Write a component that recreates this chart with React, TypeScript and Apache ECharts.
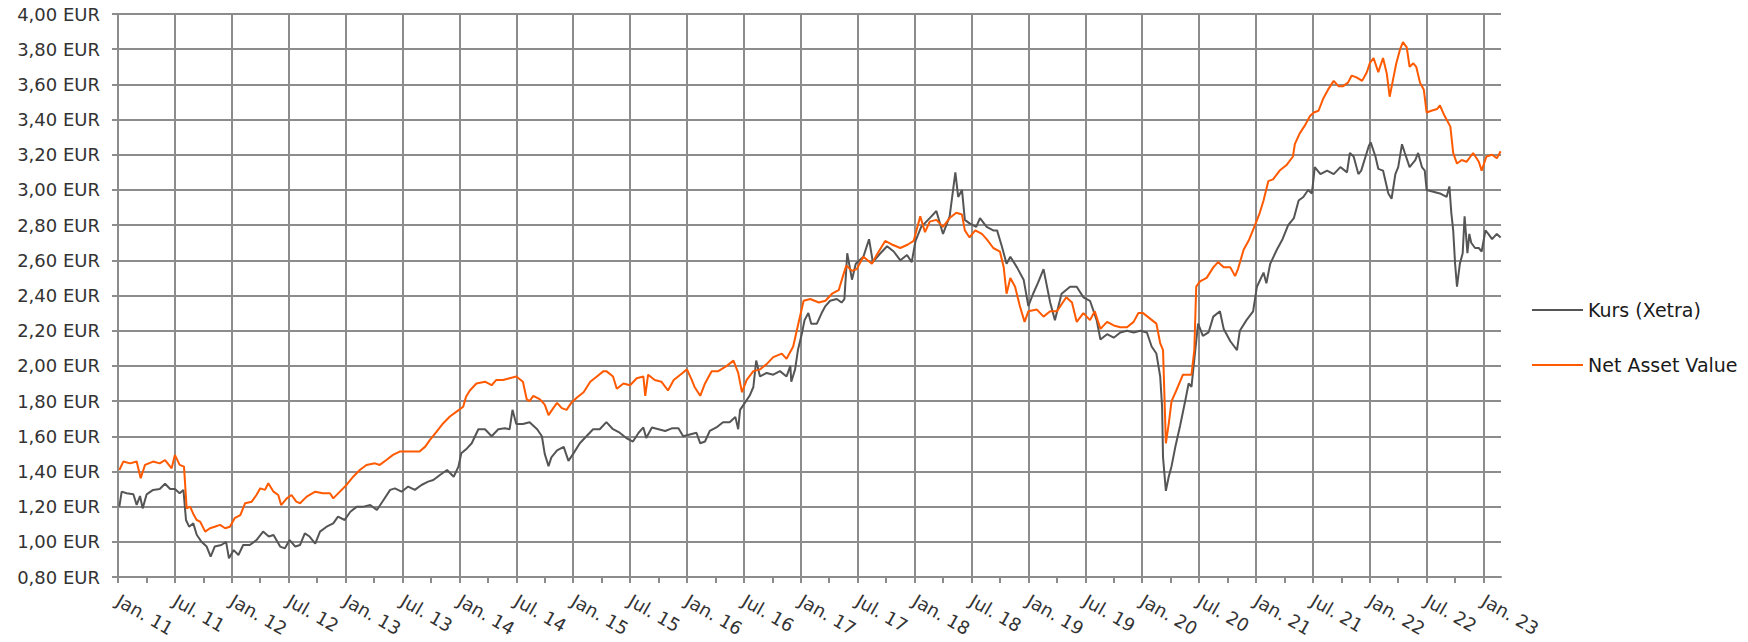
import React, { useEffect, useRef } from "react";
import * as echarts from "echarts";

// x values: months elapsed since 1 Jan 2011 (0 = Jan. 11, 144 = Jan. 23)
const X_MAX = 145.84;
const halfYearTicks = ["Jan.", "Jul."];

const kursMonths = [
  0.14, 0.39, 0.91, 1.62, 1.97, 2.32, 2.6, 3.02, 3.7, 4.4, 4.96, 5.5, 6.0, 6.5, 6.9, 7.17, 7.5, 7.94, 8.3, 8.8,
  9.35, 9.77, 10.2, 10.9, 11.4, 11.7, 12.2, 12.7, 13.2, 13.9, 14.6, 15.3, 15.9, 16.4, 17.1, 17.6, 18.1, 18.7, 19.2, 19.7,
  20.2, 20.8, 21.3, 22.0, 22.7, 23.2, 23.9, 24.5, 25.2, 25.9, 26.6, 27.3, 28.0, 28.7, 29.2, 29.9, 30.6, 31.3, 32.0, 32.7,
  33.25, 33.95, 34.7, 35.4, 35.9, 36.2, 36.8, 37.3, 38.0, 38.7, 39.4, 40.1, 40.8, 41.3, 41.6, 42.0, 42.7, 43.4, 44.2, 44.7,
  45.0, 45.4, 45.7, 46.3, 47.0, 47.5, 48.0, 48.7, 49.4, 50.1, 50.8, 51.5, 52.2, 52.9, 53.6, 54.3, 54.9, 55.4, 55.7, 56.3,
  57.0, 57.7, 58.4, 59.1, 59.6, 60.3, 61.0, 61.4, 61.9, 62.4, 63.1, 63.8, 64.5, 65.1, 65.4, 65.6, 66.1, 66.6, 67.0, 67.3,
  67.7, 68.4, 69.1, 69.8, 70.5, 70.9, 71.0, 71.4, 71.7, 72.1, 72.4, 72.8, 73.1, 73.7, 74.2, 74.6, 75.1, 75.8, 76.3, 76.6,
  76.9, 77.4, 77.8, 78.6, 79.2, 79.6, 80.4, 81.1, 81.8, 82.5, 83.2, 83.7, 84.1, 84.7, 85.6, 86.3, 87.0, 87.7, 88.3, 88.6,
  89.0, 89.3, 89.8, 90.5, 90.9, 91.6, 92.3, 92.7, 93.2, 93.7, 94.1, 94.8, 95.5, 96.0, 96.5, 97.0, 97.6, 98.3, 98.8, 99.5,
  100.4, 101.1, 101.8, 102.5, 103.2, 103.6, 104.3, 105.0, 105.7, 106.4, 107.1, 107.8, 108.5, 109.0, 109.5, 109.9, 110.1, 110.2, 110.5, 110.8,
  111.1, 111.5, 112.0, 112.5, 112.9, 113.2, 113.6, 113.9, 114.4, 115.0, 115.5, 116.2, 116.6, 117.3, 118.0, 118.3, 119.0, 119.7, 120.1, 120.8,
  121.1, 121.5, 122.2, 122.8, 123.4, 124.0, 124.5, 125.0, 125.5, 125.9, 126.2, 126.8, 127.5, 128.2, 128.9, 129.6, 129.9, 130.3, 130.8, 131.1,
  131.9, 132.1, 132.6, 132.9, 133.4, 133.96, 134.3, 134.7, 135.0, 135.4, 135.7, 136.2, 136.8, 137.1, 137.5, 137.8, 138.0, 138.7, 139.4, 140.1,
  140.4, 140.6, 140.8, 141.0, 141.2, 141.5, 141.8, 142.0, 142.3, 142.5, 142.7, 143.1, 143.5, 143.8, 144.2, 144.5, 144.9, 145.4, 145.8,
];
const kursValues = [
  1.2, 1.285, 1.276, 1.27, 1.21, 1.26, 1.19, 1.27, 1.295, 1.3, 1.33, 1.3, 1.3, 1.276, 1.295, 1.124, 1.086, 1.105, 1.04, 1.0,
  0.973, 0.916, 0.973, 0.982, 1.0, 0.906, 0.953, 0.925, 0.982, 0.982, 1.01, 1.058, 1.03, 1.039, 0.973, 0.963, 1.01, 0.973, 0.982, 1.048,
  1.03, 0.99, 1.058, 1.086, 1.105, 1.143, 1.124, 1.171, 1.2, 1.2, 1.209, 1.181, 1.238, 1.295, 1.304, 1.285, 1.314, 1.295, 1.323, 1.342,
  1.351, 1.38, 1.408, 1.37, 1.427, 1.503, 1.531, 1.56, 1.64, 1.64, 1.6, 1.64, 1.645, 1.64, 1.75, 1.67, 1.67, 1.68, 1.64, 1.6,
  1.5, 1.43, 1.48, 1.52, 1.54, 1.46, 1.5, 1.56, 1.6, 1.64, 1.64, 1.68, 1.64, 1.62, 1.59, 1.57, 1.62, 1.65, 1.59, 1.65,
  1.64, 1.63, 1.645, 1.645, 1.6, 1.61, 1.62, 1.56, 1.57, 1.63, 1.65, 1.68, 1.68, 1.71, 1.64, 1.75, 1.79, 1.83, 1.88, 2.03,
  1.94, 1.96, 1.95, 1.97, 1.94, 2.0, 1.91, 1.98, 2.09, 2.18, 2.26, 2.3, 2.24, 2.24, 2.3, 2.34, 2.37, 2.38, 2.36, 2.38,
  2.64, 2.49, 2.58, 2.62, 2.72, 2.59, 2.64, 2.68, 2.65, 2.6, 2.63, 2.59, 2.71, 2.79, 2.84, 2.88, 2.75, 2.85, 3.1, 2.96,
  3.0, 2.83, 2.81, 2.79, 2.84, 2.79, 2.77, 2.77, 2.68, 2.58, 2.62, 2.56, 2.49, 2.34, 2.41, 2.47, 2.55, 2.36, 2.26, 2.41,
  2.45, 2.45, 2.39, 2.37, 2.26, 2.15, 2.18, 2.16, 2.19, 2.2, 2.19, 2.2, 2.19, 2.11, 2.07, 1.94, 1.77, 1.48, 1.29, 1.37,
  1.43, 1.54, 1.66, 1.79, 1.9, 1.88, 2.09, 2.24, 2.17, 2.19, 2.28, 2.31, 2.21, 2.14, 2.09, 2.2, 2.26, 2.31, 2.45, 2.53,
  2.47, 2.58, 2.66, 2.72, 2.8, 2.84, 2.94, 2.96, 3.0, 2.98, 3.13, 3.09, 3.11, 3.09, 3.13, 3.1, 3.21, 3.19, 3.09, 3.11,
  3.25, 3.27, 3.19, 3.12, 3.11, 2.98, 2.95, 3.09, 3.13, 3.26, 3.21, 3.13, 3.17, 3.21, 3.13, 3.11, 3.0, 2.99, 2.98, 2.96,
  3.02, 2.87, 2.77, 2.58, 2.45, 2.58, 2.64, 2.85, 2.64, 2.75, 2.7, 2.67, 2.67, 2.65, 2.77, 2.75, 2.72, 2.75, 2.73,
];

const navMonths = [
  0.14, 0.56, 1.27, 1.97, 2.39, 2.85, 3.7, 4.4, 4.96, 5.66, 6.0, 6.5, 6.96, 7.24, 7.6, 8.0, 8.3, 8.65, 9.2, 9.7,
  10.2, 10.76, 11.3, 11.8, 12.3, 12.9, 13.4, 14.1, 14.6, 15.0, 15.5, 15.85, 16.4, 16.9, 17.2, 17.8, 18.3, 18.8, 19.2, 19.9,
  20.8, 21.6, 22.35, 22.7, 23.4, 24.1, 24.8, 25.5, 26.2, 27.1, 27.6, 28.3, 29.0, 29.7, 30.4, 31.1, 31.8, 32.4, 32.9, 33.6,
  34.3, 35.0, 35.7, 36.4, 36.7, 37.1, 37.8, 38.7, 39.4, 39.9, 40.6, 41.3, 42.0, 42.7, 43.1, 43.4, 43.8, 44.5, 45.0, 45.4,
  45.9, 46.3, 46.8, 47.3, 47.8, 48.4, 49.1, 49.8, 50.5, 51.2, 51.5, 52.2, 52.6, 53.3, 54.0, 54.7, 55.4, 55.6, 55.9, 56.6,
  57.3, 58.0, 58.6, 59.3, 60.0, 60.5, 60.8, 61.4, 61.9, 62.6, 63.3, 64.2, 64.9, 65.4, 65.8, 66.3, 67.0, 67.7, 68.4, 69.1,
  70.0, 70.5, 71.2, 71.7, 72.3, 73.0, 73.9, 74.6, 75.3, 76.0, 76.5, 76.8, 77.4, 77.9, 78.6, 79.5, 80.0, 80.9, 81.6, 82.5,
  83.3, 83.9, 84.2, 84.6, 85.1, 85.6, 86.3, 87.0, 87.7, 88.4, 89.0, 89.3, 89.8, 90.4, 91.1, 91.6, 92.3, 93.0, 93.4, 93.7,
  94.1, 94.6, 95.1, 95.6, 96.0, 96.9, 97.6, 98.3, 99.0, 100.0, 100.6, 101.1, 101.8, 102.5, 103.0, 103.6, 104.3, 105.0, 105.7, 106.4,
  107.1, 107.6, 108.1, 108.8, 109.5, 109.9, 110.2, 110.5, 110.8, 111.1, 111.6, 112.3, 113.2, 113.5, 113.7, 114.1, 114.8, 115.5, 116.0, 116.6,
  117.3, 117.8, 118.1, 118.7, 119.3, 119.9, 120.4, 120.8, 121.3, 121.8, 122.5, 123.2, 123.9, 124.1, 124.6, 125.2, 125.7, 126.1, 126.6, 127.1,
  127.6, 128.2, 128.7, 129.2, 129.7, 130.1, 130.6, 131.2, 131.7, 132.0, 132.4, 132.9, 133.4, 133.8, 134.1, 134.5, 134.8, 135.2, 135.5, 135.9,
  136.2, 136.6, 136.9, 137.3, 137.7, 138.0, 138.5, 139.1, 139.4, 139.9, 140.5, 140.8, 141.2, 141.7, 142.2, 142.9, 143.5, 143.8, 144.3, 144.9,
  145.4, 145.8,
];
const navValues = [
  1.408, 1.456, 1.446, 1.456, 1.361, 1.437, 1.456, 1.446, 1.465, 1.418, 1.494, 1.437, 1.427, 1.19, 1.2, 1.152, 1.124, 1.115, 1.058, 1.077,
  1.086, 1.096, 1.077, 1.086, 1.134, 1.152, 1.219, 1.228, 1.266, 1.304, 1.295, 1.333, 1.285, 1.266, 1.209, 1.247, 1.266, 1.228, 1.219, 1.257,
  1.285, 1.276, 1.276, 1.247, 1.285, 1.323, 1.37, 1.408, 1.437, 1.446, 1.437, 1.465, 1.494, 1.513, 1.513, 1.513, 1.513, 1.541, 1.579, 1.626,
  1.674, 1.712, 1.74, 1.768, 1.825, 1.86, 1.9, 1.91, 1.89, 1.92, 1.92, 1.93, 1.94, 1.91, 1.81, 1.8, 1.83, 1.81, 1.78, 1.72,
  1.76, 1.79, 1.76, 1.75, 1.79, 1.82, 1.85, 1.91, 1.94, 1.97, 1.97, 1.94, 1.87, 1.9, 1.89, 1.93, 1.94, 1.83, 1.95, 1.92,
  1.91, 1.86, 1.92, 1.95, 1.98, 1.92, 1.88, 1.83, 1.9, 1.97, 1.97, 2.0, 2.03, 1.96, 1.85, 1.92, 1.97, 1.98, 2.01, 2.05,
  2.07, 2.04, 2.11, 2.23, 2.37, 2.38, 2.36, 2.37, 2.41, 2.43, 2.52, 2.57, 2.54, 2.55, 2.62, 2.58, 2.63, 2.71, 2.69, 2.67,
  2.69, 2.71, 2.77, 2.85, 2.76, 2.82, 2.83, 2.79, 2.84, 2.87, 2.86, 2.77, 2.73, 2.77, 2.75, 2.72, 2.67, 2.65, 2.56, 2.41,
  2.5, 2.45, 2.34, 2.25, 2.31, 2.32, 2.28, 2.31, 2.31, 2.39, 2.36, 2.25, 2.3, 2.26, 2.31, 2.21, 2.25, 2.23, 2.22, 2.22,
  2.25, 2.3, 2.3, 2.27, 2.24, 2.13, 2.09, 1.56, 1.67, 1.8, 1.86, 1.95, 1.95, 2.09, 2.45, 2.48, 2.5, 2.56, 2.59, 2.56,
  2.56, 2.51, 2.55, 2.66, 2.72, 2.8, 2.87, 2.94, 3.05, 3.06, 3.11, 3.14, 3.19, 3.26, 3.32, 3.37, 3.42, 3.44, 3.45, 3.52,
  3.57, 3.62, 3.59, 3.59, 3.61, 3.65, 3.64, 3.62, 3.67, 3.72, 3.75, 3.67, 3.75, 3.66, 3.53, 3.64, 3.72, 3.8, 3.84, 3.81,
  3.7, 3.72, 3.7, 3.61, 3.57, 3.44, 3.45, 3.46, 3.48, 3.42, 3.36, 3.21, 3.15, 3.17, 3.16, 3.21, 3.16, 3.11, 3.19, 3.2,
  3.18, 3.22,
];

const seriesNames = ["Kurs (Xetra)", "Net Asset Value"];
const seriesColors = ["#555555", "#ff5a00"];

const quarterTicks: number[] = [];
for (let m = 0; m <= 144; m += 3) quarterTicks.push(m);

const FONT = "DejaVu Sans";
const GRID_COLOR = "#8c8c8c";

export default function App() {
  const ref = useRef<HTMLDivElement>(null);
  useEffect(() => {
    if (!ref.current) return;
    const chart = echarts.init(ref.current, null, { renderer: "svg" });
    const kursData = kursMonths.map((m, i) => [m, kursValues[i]]);
    const navData = navMonths.map((m, i) => [m, navValues[i]]);
    chart.setOption({
      animation: false,
      backgroundColor: "#ffffff",
      grid: { left: 118, right: 247, top: 14, bottom: 65, containLabel: false },
      legend: {
        orient: "vertical",
        left: 1527,
        top: 294,
        icon: "rect",
        itemWidth: 51,
        itemHeight: 2,
        itemGap: 33,
        data: seriesNames,
        textStyle: { fontFamily: FONT, fontSize: 19, color: "#1a1a1a", lineHeight: 22 },
      },
      xAxis: [
        {
          type: "value",
          min: 0,
          max: X_MAX,
          interval: 6,
          axisLine: { show: true, lineStyle: { color: GRID_COLOR, width: 2 } },
          axisTick: { show: false },
          splitLine: { show: true, showMaxLine: false, lineStyle: { color: GRID_COLOR, width: 2 } },
          axisLabel: {
            show: true,
            showMaxLabel: false,
            rotate: -30,
            margin: 22,
            fontFamily: FONT,
            fontSize: 18,
            color: "#333333",
            formatter: (v: number) => {
              const r = Math.round(v);
              if (Math.abs(v - r) > 0.01 || r % 6 !== 0) return "";
              const yy = 11 + Math.floor(r / 12);
              return `${halfYearTicks[(r % 12) / 6]} ${yy}`;
            },
          },
        },
        {
          type: "value",
          min: 0,
          max: X_MAX,
          interval: 3,
          position: "bottom",
          axisLine: { show: false },
          axisLabel: { show: false },
          splitLine: { show: false },
          axisTick: {
            show: true,
            length: 6,
            customValues: quarterTicks,
            lineStyle: { color: GRID_COLOR, width: 2 },
          },
        },
      ],
      yAxis: {
        type: "value",
        min: 0.8,
        max: 4.0,
        interval: 0.2,
        axisLine: { show: true, lineStyle: { color: GRID_COLOR, width: 2 } },
        axisTick: { show: true, length: 6, lineStyle: { color: GRID_COLOR, width: 2 } },
        splitLine: { show: true, lineStyle: { color: GRID_COLOR, width: 2 } },
        axisLabel: {
          margin: 18,
          fontFamily: FONT,
          fontSize: 18,
          color: "#333333",
          formatter: (v: number) => v.toFixed(2).replace(".", ",") + " EUR",
        },
      },
      series: [
        {
          name: seriesNames[0],
          type: "line",
          xAxisIndex: 0,
          data: kursData,
          showSymbol: false,
          symbol: "none",
          color: seriesColors[0],
          itemStyle: { color: seriesColors[0] },
          lineStyle: { color: seriesColors[0], width: 2 },
          z: 2,
        },
        {
          name: seriesNames[1],
          type: "line",
          xAxisIndex: 0,
          data: navData,
          showSymbol: false,
          symbol: "none",
          color: seriesColors[1],
          itemStyle: { color: seriesColors[1] },
          lineStyle: { color: seriesColors[1], width: 2 },
          z: 3,
        },
      ],
    });
    return () => chart.dispose();
  }, []);
  return (
    <div
      ref={ref}
      style={{ position: "absolute", left: 0, top: 0, width: 1748, height: 642, background: "#fff" }}
    />
  );
}
